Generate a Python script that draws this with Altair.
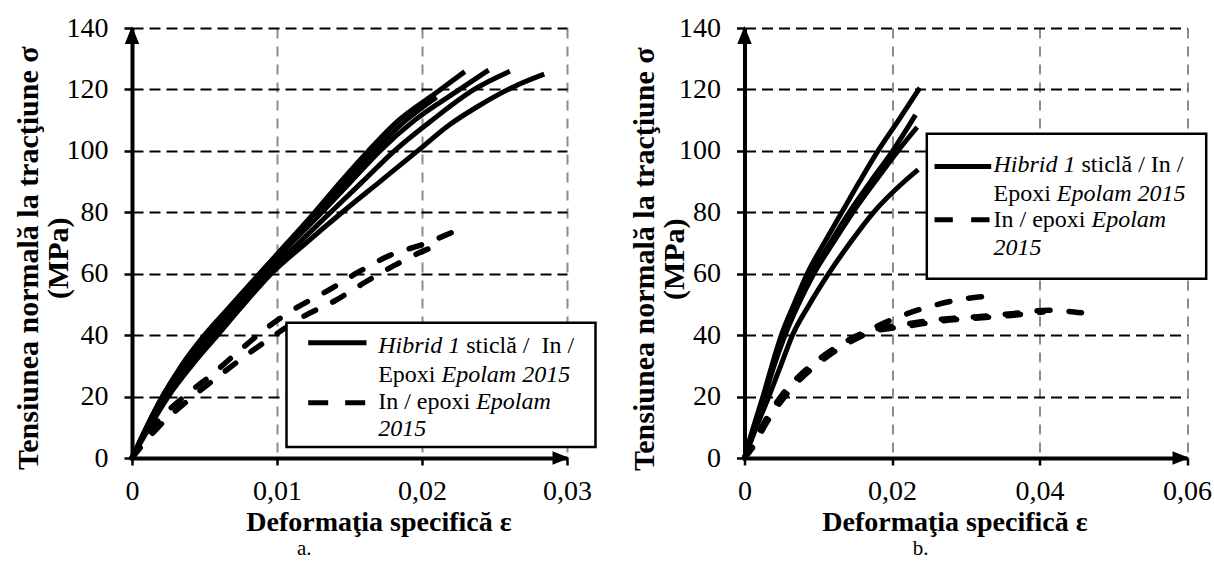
import altair as alt
import pandas as pd

# ---------------- data ----------------
# Panel a: Hibrid 1 sticlă / In / Epoxi Epolam 2015 (solid)
A_S1_X = [0, 0.0010, 0.0021, 0.0034, 0.0050, 0.0069, 0.0088, 0.0107, 0.0126, 0.0144, 0.0163, 0.0184, 0.0210, 0.02295]
A_S1_Y = [0, 10, 20, 30, 40, 50, 60, 70, 80, 90, 100, 110, 119, 125.8]
A_S2_X = [0, 0.0011, 0.0022, 0.0037, 0.0053, 0.0071, 0.0090, 0.0110, 0.0131, 0.0151, 0.0171, 0.0195, 0.0226, 0.0246]
A_S2_Y = [0, 10, 20, 30, 40, 50, 60, 70, 80, 90, 100, 110, 120, 126.3]
A_S3_X = [0, 0.0011, 0.0023, 0.0039, 0.0056, 0.0074, 0.0093, 0.0115, 0.0137, 0.0159, 0.0181, 0.0207, 0.0236, 0.02606]
A_S3_Y = [0, 10, 20, 30, 40, 50, 60, 70, 80, 90, 100, 110, 120, 125.9]
A_S4_X = [0, 0.0012, 0.0025, 0.0041, 0.0059, 0.0077, 0.0096, 0.0120, 0.0145, 0.0171, 0.0197, 0.0219, 0.0239, 0.0267, 0.02843]
A_S4_Y = [0, 10, 20, 30, 40, 50, 60, 70, 80, 90, 100, 108.5, 114.6, 121.7, 125.0]
A_S5_X = [0, 0.0010, 0.0021, 0.0035, 0.0051, 0.0069, 0.0088, 0.0108, 0.0128, 0.0147, 0.0167, 0.0189, 0.0210]
A_S5_Y = [0, 10, 20, 30, 40, 50, 60, 70, 80, 90, 100, 110, 117.5]
# Panel a: In / epoxi Epolam 2015 (dashed)
A_D1_X = [0, 0.0016, 0.0036, 0.0056, 0.0073, 0.0092, 0.0112, 0.0135, 0.0156, 0.0178, 0.0202, 0.02215]
A_D1_Y = [0, 11, 20, 27.5, 34.5, 42, 48.5, 54.5, 60.5, 66, 69.8, 73.6]
A_D2_X = [0, 0.0018, 0.0038, 0.0058, 0.0076, 0.0096, 0.0119, 0.0140, 0.0161, 0.0181, 0.0202, 0.0210]
A_D2_Y = [0, 10, 18.5, 26, 32.5, 39.2, 46.3, 51.2, 57.3, 62.7, 67.6, 69]

# Panel b: solid
B_S1_X = [0, 0.0012, 0.0025, 0.0037, 0.0050, 0.0067, 0.0085, 0.0108, 0.0132, 0.0156, 0.0181, 0.0209, 0.02377]
B_S1_Y = [0, 10, 20, 30, 40, 50, 60, 70, 80, 90, 100, 110, 120.5]
B_S2_X = [0, 0.0013, 0.0026, 0.0039, 0.0053, 0.0071, 0.0091, 0.0116, 0.0142, 0.0171, 0.0201, 0.02319]
B_S2_Y = [0, 10, 20, 30, 40, 50, 60, 70, 80, 90, 100, 111.7]
B_S3_X = [0, 0.0013, 0.0027, 0.0040, 0.0055, 0.0073, 0.0094, 0.0120, 0.0147, 0.0177, 0.0208, 0.02341]
B_S3_Y = [0, 10, 20, 30, 40, 50, 60, 70, 80, 90, 100, 107.7]
B_S4_X = [0, 0.0016, 0.0033, 0.0049, 0.0065, 0.0088, 0.0114, 0.0143, 0.0175, 0.0217, 0.02355]
B_S4_Y = [0, 10, 20, 30, 40, 50, 60, 70, 80, 90.1, 93.9]
# Panel b: dashed
B_D1_X = [0, 0.00095, 0.0028, 0.0055, 0.0089, 0.0128, 0.0170, 0.0215, 0.0262, 0.0309, 0.0322]
B_D1_Y = [0, 3.4, 12, 21.7, 29.8, 36.6, 41.8, 46.5, 50.0, 52.2, 52.5]
B_D2_X = [0, 0.00095, 0.0028, 0.0055, 0.0089, 0.0128, 0.0170, 0.0217, 0.0267, 0.0316, 0.0364, 0.0412, 0.0457]
B_D2_Y = [0, 3.4, 12, 21.7, 29.8, 36.6, 41.4, 43.5, 45.2, 46.0, 47.0, 48.1, 47.3]
B_D3_X = [0, 0.0010, 0.0030, 0.0058, 0.0092, 0.0131, 0.0172, 0.0218, 0.0268, 0.0318, 0.0366, 0.0405]
B_D3_Y = [0, 3, 11.5, 21, 29.2, 36, 41, 42.8, 44.6, 45.6, 46.5, 47.5]

X_TICKS_A = [0, 0.01, 0.02, 0.03]
X_TICKS_B = [0, 0.02, 0.04, 0.06]
Y_TICKS = [0, 20, 40, 60, 80, 100, 120, 140]

Y_TITLE = ["Tensiunea normală la tracţiune σ", "(MPa)"]
X_TITLE = "Deformaţia specifică ε"

FONT = "Liberation Serif, Times New Roman, Times, DejaVu Serif, serif"
PLOT_H = 430


def frame(curves):
    rows = []
    for name, xs, ys in curves:
        for i, (x, y) in enumerate(zip(xs, ys)):
            rows.append({"curve": name, "idx": i, "strain": x, "stress": y})
    return pd.DataFrame(rows)


ONE = pd.DataFrame({"k": [0]})


def x_axis(ticks, title_x):
    return alt.Axis(
        values=ticks,
        labelExpr="datum.value == 0 ? '0' : replace(format(datum.value, '.2f'), '.', ',')",
        labelFont=FONT, labelFontSize=28, labelColor="black", labelPadding=12,
        labelFlush=False, labelOverlap=False,
        tickSize=7, tickWidth=2.5, tickColor="black",
        domainColor="black", domainWidth=4,
        grid=True, gridColor="#8c8c8c", gridDash=[10, 8], gridWidth=2,
        title=X_TITLE, titleFont=FONT, titleFontWeight="bold", titleFontSize=28,
        titleColor="black", titleX=title_x, titleY=72.3,
        titleBaseline="alphabetic", titleAlign="center",
    )


def y_axis(title_x, title_y):
    return alt.Axis(
        values=Y_TICKS,
        labelFont=FONT, labelFontSize=28, labelColor="black", labelPadding=16,
        labelFlush=False, labelOverlap=False,
        tickSize=8, tickWidth=2.5, tickColor="black",
        domainColor="black", domainWidth=4,
        grid=True, gridColor="black", gridDash=[11, 6], gridWidth=2,
        title=Y_TITLE, titleFont=FONT, titleFontWeight="bold", titleFontSize=30,
        titleColor="black", titleX=title_x, titleY=title_y, titleAngle=270,
        titleBaseline="alphabetic", titleAlign="center", titleLineHeight=30,
    )


def text(x, y, s, italic=False, size=24, align="left"):
    kw = dict(font=FONT, fontSize=size, color="black", align=align, baseline="alphabetic")
    if italic:
        kw["fontStyle"] = "italic"
    return alt.Chart(ONE).mark_text(**kw).encode(
        x=alt.value(x), y=alt.value(y), text=alt.value(s))


def panel(solid, dashed, xmax, ticks, w, xt, yt, leg, label, label_x):
    h = PLOT_H
    xs = alt.Scale(domain=[0, xmax], nice=False)
    ys = alt.Scale(domain=[0, 140], nice=False)
    base_solid = alt.Chart(frame(solid)).mark_line(
        color="black", strokeWidth=5, interpolate="monotone"
    ).encode(
        x=alt.X("strain:Q", scale=xs, axis=x_axis(ticks, xt)),
        y=alt.Y("stress:Q", scale=ys, axis=y_axis(yt[0], yt[1])),
        detail="curve:N", order="idx:Q",
    )
    base_dashed = alt.Chart(frame(dashed)).mark_line(
        color="black", strokeWidth=5.5, strokeDash=[13, 19], strokeCap="round",
        interpolate="monotone"
    ).encode(
        x=alt.X("strain:Q", scale=xs),
        y=alt.Y("stress:Q", scale=ys),
        detail="curve:N", order="idx:Q",
    )
    up = alt.Chart(ONE).mark_point(
        shape="M0,-1L0.8,1L-0.8,1Z", filled=True, color="black", opacity=1, size=324, yOffset=7
    ).encode(x=alt.value(0), y=alt.value(0))
    right = alt.Chart(ONE).mark_point(
        shape="M1,0L-1,0.8L-1,-0.8Z", filled=True, color="black", opacity=1, size=289, xOffset=-6
    ).encode(x=alt.value(w), y=alt.value(h))

    bx0, bx1, by0, by1, sx0, sx1, sy1, sy2, tx, b1, b2, b3, b4, line1_rest, dash = leg
    box = alt.Chart(ONE).mark_rect(fill="white", stroke="black", strokeWidth=2.5).encode(
        x=alt.value(bx0), x2=alt.value(bx1), y=alt.value(by0), y2=alt.value(by1))
    s_line = alt.Chart(ONE).mark_rule(color="black", strokeWidth=5).encode(
        x=alt.value(sx0), x2=alt.value(sx1), y=alt.value(sy1))
    d_line = alt.Chart(ONE).mark_rule(color="black", strokeWidth=5, strokeDash=dash).encode(
        x=alt.value(sx0), x2=alt.value(sx1), y=alt.value(sy2))
    texts = [
        text(tx, b1, "Hibrid 1", italic=True),
        text(tx + 88.0, b1, line1_rest),
        text(tx, b2, "Epoxi"),
        text(tx + 63.3, b2, "Epolam 2015", italic=True),
        text(tx, b3, "In / epoxi"),
        text(tx + 98.0, b3, "Epolam", italic=True),
        text(tx, b4, "2015", italic=True),
        text(label_x, 527.2, label, size=21, align="center"),
    ]
    return alt.layer(base_solid, base_dashed, box, s_line, d_line, *texts, up, right).properties(
        width=w, height=h)


panel_a = panel(
    [("s1", A_S1_X, A_S1_Y), ("s2", A_S2_X, A_S2_Y), ("s3", A_S3_X, A_S3_Y),
     ("s4", A_S4_X, A_S4_Y), ("s5", A_S5_X, A_S5_Y)],
    [("d1", A_D1_X, A_D1_Y), ("d2", A_D2_X, A_D2_Y)],
    0.03, X_TICKS_A, 435, 246.5, (-94.5, 229.7),
    (154.5, 463.5, 294.7, 419, 176.2, 234.5, 314.7, 374.7, 246.2,
     324.7, 353.7, 381.4, 408.0, "sticlă /\u00a0 In /", [20, 17]),
    "a.", 172.2,
)

panel_b = panel(
    [("s1", B_S1_X, B_S1_Y), ("s2", B_S2_X, B_S2_Y), ("s3", B_S3_X, B_S3_Y),
     ("s4", B_S4_X, B_S4_Y)],
    [("d1", B_D1_X, B_D1_Y), ("d2", B_D2_X, B_D2_Y), ("d3", B_D3_X, B_D3_Y)],
    0.06, X_TICKS_B, 442.5, 210, (-91, 230.7),
    (182.3, 461.7, 105.7, 250.7, 190, 246.7, 138.4, 191.7, 249,
     144.4, 172.7, 199.4, 226.7, "sticlă / In /", [18.3, 18.4]),
    "b.", 176,
)

chart = alt.hconcat(panel_a, panel_b, spacing=177.5, bounds="flush").properties(
    padding={"left": 13, "top": 14, "right": 0, "bottom": 0}
).configure_view(strokeOpacity=0)

chart.save("out.html", embed_options={"renderer": "svg", "actions": False})
